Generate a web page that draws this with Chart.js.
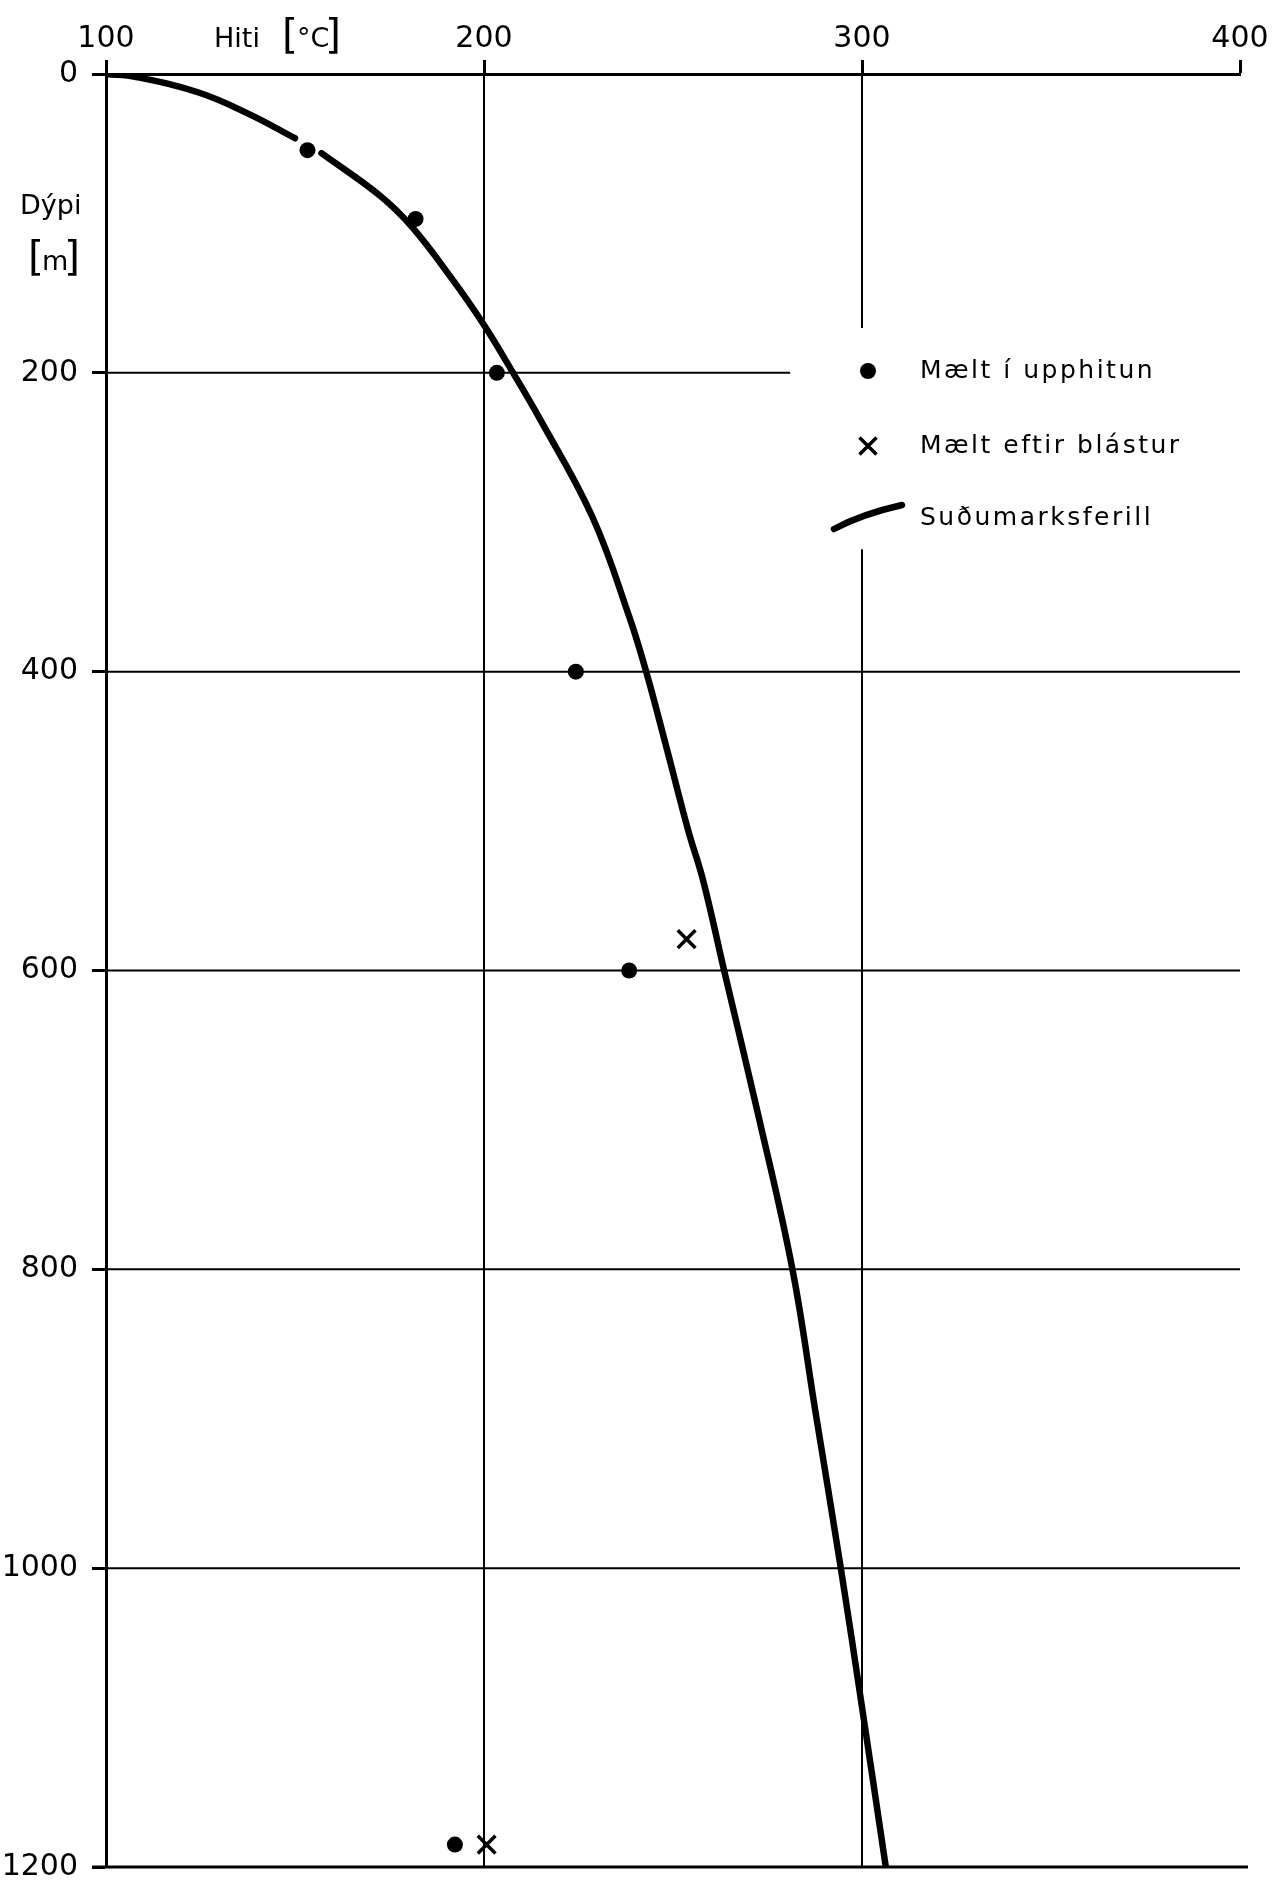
<!DOCTYPE html>
<html>
<head>
<meta charset="utf-8">
<script src="https://cdn.jsdelivr.net/npm/chart.js@4.4.1/dist/chart.umd.min.js"></script>
<style>
  html, body { margin: 0; padding: 0; background: #fff; }
  #wrap { width: 1281px; height: 1896px; position: relative; }
</style>
</head>
<body>
<div id="wrap"><canvas id="c" width="1281" height="1896"></canvas></div>
<script>
// Axis ticks
const tempTicks = [100, 200, 300, 400];
const depthTicks = [0, 200, 400, 600, 800, 1000, 1200];

// Boiling point with depth (Suðumarksferill): depth [m] and temperature [°C].
// The null entry breaks the line beside the 51 m reading.
const curveDepth = [0, 2, 12.4, 27, 43, null, 53, 81.5, 102.5, 137, 168, 200, 230, 296, 363, 400, 451, 506, 540, 603, 695, 800, 894, 1000, 1093, 1200];
const curveTemp  = [100, 108, 124.5, 138, 150, null, 157, 172.5, 181, 191.5, 200, 207.7, 214.6, 228.6, 238.4, 242.9, 248.3, 254, 258, 263.8, 272.4, 281.6, 287.6, 294.4, 300, 306.3];

// Measured during heating-up (Mælt í upphitun)
const heatDepth = [51, 97, 200, 400, 600, 1185];
const heatTemp  = [153.3, 181.9, 203.4, 224.3, 238.4, 192.3];

// Measured after discharge (Mælt eftir blástur)
const blowDepth = [579, 1185];
const blowTemp  = [253.6, 200.7];

const FONT = '"DejaVu Sans", "Liberation Sans", sans-serif';
const INK = '#000';

const toPoints = (temps, depths) => temps.map((t, i) => ({ x: t, y: depths[i] }));

// Grid lines inside the plot area
const gridPlugin = {
  id: 'paperGrid',
  beforeDatasetsDraw(chart) {
    const { ctx } = chart;
    const xs = chart.scales.x, ys = chart.scales.y;
    ctx.save();
    ctx.strokeStyle = INK;
    ctx.lineCap = 'butt';
    // horizontal depth lines
    depthTicks.forEach(d => {
      if (d === 0) return;
      const y = ys.getPixelForValue(d);
      const xEnd = d === 200 ? xs.getPixelForValue(281) : xs.getPixelForValue(400);
      ctx.lineWidth = d === 1200 ? 3 : 2;
      ctx.beginPath();
      ctx.moveTo(xs.getPixelForValue(100) - (d === 1200 ? 14 : 0), y);
      ctx.lineTo(d === 1200 ? xEnd + 8 : xEnd, y);
      ctx.stroke();
    });
    // vertical temperature lines (200 full, 300 broken around the legend)
    ctx.lineWidth = 2;
    const top = ys.getPixelForValue(0), bot = ys.getPixelForValue(1200);
    let x = xs.getPixelForValue(200);
    ctx.beginPath(); ctx.moveTo(x, top); ctx.lineTo(x, bot); ctx.stroke();
    x = xs.getPixelForValue(300);
    ctx.beginPath();
    ctx.moveTo(x, top); ctx.lineTo(x, ys.getPixelForValue(170));
    ctx.moveTo(x, ys.getPixelForValue(318)); ctx.lineTo(x, bot);
    ctx.stroke();
    ctx.restore();
  }
};

// Axis titles and the legend
const textPlugin = {
  id: 'paperText',
  afterDraw(chart) {
    const { ctx } = chart;
    const ds = chart.data.datasets;
    ctx.save();
    ctx.fillStyle = INK;
    ctx.textBaseline = 'middle';
    ctx.textAlign = 'left';

    // x-axis title: Hiti [°C]
    ctx.font = '27px ' + FONT;
    ctx.fillText('Hiti', 214, 40);
    ctx.font = '41px ' + FONT;
    ctx.fillText('[', 282, 37);
    ctx.font = '27px ' + FONT;
    ctx.fillText('°C', 297, 40);
    ctx.font = '41px ' + FONT;
    ctx.fillText(']', 325, 37);

    // y-axis title: Dýpi [m]
    ctx.font = '27px ' + FONT;
    ctx.fillText('Dýpi', 20, 207);
    ctx.font = '41px ' + FONT;
    ctx.fillText('[', 28, 259);
    ctx.font = '27px ' + FONT;
    ctx.fillText('m', 42, 263);
    ctx.font = '41px ' + FONT;
    ctx.fillText(']', 64, 259);

    // legend
    const mx = 868, tx = 920;
    const rows = [371, 446, 518];
    ctx.font = '25px ' + FONT;
    ctx.letterSpacing = '2.5px';
    // filled dot
    ctx.beginPath();
    ctx.arc(mx, rows[0], ds[1].pointRadius, 0, Math.PI * 2);
    ctx.fill();
    ctx.fillText(ds[1].label, tx, rows[0]);
    // cross
    const h = 8.5;
    ctx.strokeStyle = INK;
    ctx.lineWidth = ds[2].borderWidth;
    ctx.beginPath();
    ctx.moveTo(mx - h, rows[1] - h); ctx.lineTo(mx + h, rows[1] + h);
    ctx.moveTo(mx + h, rows[1] - h); ctx.lineTo(mx - h, rows[1] + h);
    ctx.stroke();
    ctx.fillText(ds[2].label, tx, rows[1]);
    // curve sample
    ctx.lineWidth = ds[0].borderWidth;
    ctx.lineCap = 'round';
    ctx.beginPath();
    ctx.moveTo(834, 529);
    ctx.quadraticCurveTo(862, 514, 902, 505);
    ctx.stroke();
    ctx.fillText(ds[0].label, tx, rows[2]);
    ctx.restore();
  }
};

const tickLabel = (v) => String(v);

new Chart(document.getElementById('c'), {
  type: 'scatter',
  data: {
    datasets: [
      {
        label: 'Suðumarksferill',
        data: toPoints(curveTemp, curveDepth),
        showLine: true,
        spanGaps: false,
        borderColor: INK,
        borderWidth: 6.5,
        borderCapStyle: 'round',
        borderJoinStyle: 'round',
        tension: 0.4,
        pointRadius: 0,
        pointHoverRadius: 0,
        order: 2
      },
      {
        label: 'Mælt í upphitun',
        data: toPoints(heatTemp, heatDepth),
        pointStyle: 'circle',
        pointRadius: 8,
        pointBackgroundColor: INK,
        pointBorderWidth: 0,
        borderWidth: 0,
        order: 1
      },
      {
        label: 'Mælt eftir blástur',
        data: toPoints(blowTemp, blowDepth),
        pointStyle: 'crossRot',
        pointRadius: 12.5,
        pointBorderColor: INK,
        pointBorderWidth: 3.5,
        borderColor: INK,
        borderWidth: 3.5,
        order: 1
      }
    ]
  },
  options: {
    responsive: false,
    animation: false,
    devicePixelRatio: 1,
    layout: { padding: { left: 0, top: 0, right: 41, bottom: 15 } },
    plugins: {
      legend: { display: false },
      tooltip: { enabled: false },
      title: { display: false }
    },
    scales: {
      x: {
        type: 'linear',
        position: 'top',
        min: 100,
        max: 400,
        afterBuildTicks: (scale) => { scale.ticks = tempTicks.map(v => ({ value: v })); },
        afterFit: (scale) => { scale.height = 74; },
        ticks: {
          color: INK,
          padding: 6,
          maxRotation: 0,
          callback: tickLabel,
          font: { family: FONT, size: 30, lineHeight: 1 }
        },
        grid: {
          display: true,
          drawOnChartArea: false,
          drawTicks: true,
          tickLength: 14,
          tickWidth: 3,
          tickColor: INK
        },
        border: { display: true, color: INK, width: 3 }
      },
      y: {
        type: 'linear',
        position: 'left',
        reverse: true,
        min: 0,
        max: 1200,
        afterBuildTicks: (scale) => { scale.ticks = depthTicks.map(v => ({ value: v })); },
        afterFit: (scale) => { scale.width = 106; },
        ticks: {
          color: INK,
          padding: 14,
          callback: tickLabel,
          font: { family: FONT, size: 30, lineHeight: 1 }
        },
        grid: {
          display: true,
          drawOnChartArea: false,
          drawTicks: true,
          tickLength: 14,
          tickWidth: 3,
          tickColor: INK
        },
        border: { display: true, color: INK, width: 3 }
      }
    }
  },
  plugins: [gridPlugin, textPlugin]
});
</script>
</body>
</html>
